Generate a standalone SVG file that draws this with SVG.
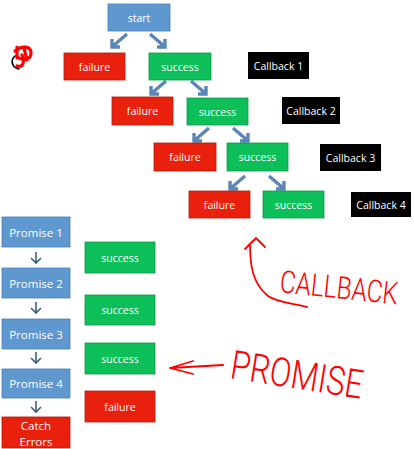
<svg xmlns="http://www.w3.org/2000/svg" width="414" height="449" viewBox="0 0 414 449">
<defs>
<style>
.blue{fill:#5f97cf;stroke:#4a7fb5;stroke-width:0.8}
.red{fill:#e8200c;stroke:#b81a0a;stroke-width:0.8}
.green{fill:#0dbf58;stroke:#0a9a47;stroke-width:0.8}
.black{fill:#000}
.t{font-family:"Open Sans","Liberation Sans",sans-serif;fill:#fff;text-anchor:middle;dominant-baseline:central}
.s{font-size:10.5px}
.p{font-size:11.5px}
.chev{fill:none;stroke:#5a86b8;stroke-width:3.4;stroke-linejoin:miter;stroke-linecap:butt}
.down{fill:none;stroke:#3f5f86;stroke-width:1.6}
.ink{fill:none;stroke:#f00;stroke-width:1.8;stroke-linecap:round;stroke-linejoin:round}
.hand{font-family:"Roboto","DejaVu Sans",sans-serif;font-weight:300;fill:#f00}
</style>
</defs>
<g id="connectors">
<path class="chev" d="M127,34 L113,46 M112,39 L112,47 L120,47"/>
<path class="chev" d="M150,34 L164,46 M165,39 L165,47 L157,47"/>
<path class="chev" d="M166,81 L152,93 M151,86 L151,94 L159,94"/>
<path class="chev" d="M191,81 L205,93 M206,86 L206,94 L198,94"/>
<path class="chev" d="M209,128 L195,140 M194,133 L194,141 L202,141"/>
<path class="chev" d="M233,128 L247,140 M248,133 L248,141 L240,141"/>
<path class="chev" d="M245,176 L231,188 M230,181 L230,189 L238,189"/>
<path class="chev" d="M269,176 L283,188 M284,181 L284,189 L276,189"/>
<path class="down" d="M36,252 L36,263 M31,258 L36,263 L41,258"/>
<path class="down" d="M36,302 L36,313 M31,308 L36,313 L41,308"/>
<path class="down" d="M36,352 L36,363 M31,358 L36,363 L41,358"/>
<path class="down" d="M36,401 L36,412 M31,407 L36,412 L41,407"/>
</g>
<g id="start"><rect class="blue" x="108" y="4" width="62" height="27"/><text class="t s" x="139" y="17.5">start</text></g>
<g id="failure1"><rect class="red" x="64" y="53" width="61" height="27"/><text class="t s" x="94.5" y="66.5">failure</text></g>
<g id="success1"><rect class="green" x="149" y="53" width="62" height="27"/><text class="t s" x="180" y="66.5">success</text></g>
<g id="callback1"><rect class="black" x="248" y="52" width="61" height="27"/><text class="t s" x="278.5" y="65.5">Callback 1</text></g>
<g id="failure2"><rect class="red" x="112" y="97" width="61" height="28"/><text class="t s" x="142.5" y="111">failure</text></g>
<g id="success2"><rect class="green" x="187" y="98" width="61" height="27"/><text class="t s" x="217.5" y="111.5">success</text></g>
<g id="callback2"><rect class="black" x="282" y="97" width="58" height="27"/><text class="t s" x="311" y="110.5">Callback 2</text></g>
<g id="failure3"><rect class="red" x="154" y="143" width="62" height="28"/><text class="t s" x="185" y="157">failure</text></g>
<g id="success3"><rect class="green" x="227" y="143" width="61" height="28"/><text class="t s" x="257.5" y="157">success</text></g>
<g id="callback3"><rect class="black" x="320" y="144" width="61" height="27"/><text class="t s" x="350.5" y="157.5">Callback 3</text></g>
<g id="failure4"><rect class="red" x="189" y="191" width="61" height="27"/><text class="t s" x="219.5" y="204.5">failure</text></g>
<g id="success4"><rect class="green" x="263" y="191" width="61" height="27"/><text class="t s" x="293.5" y="204.5">success</text></g>
<g id="callback4"><rect class="black" x="351" y="192" width="60" height="25"/><text class="t s" x="381" y="204.5">Callback 4</text></g>
<g id="promise1"><rect class="blue" x="2" y="217" width="68" height="30"/><text class="t p" x="36" y="232">Promise 1</text></g>
<g id="promise2"><rect class="blue" x="2" y="268" width="68" height="30"/><text class="t p" x="36" y="283">Promise 2</text></g>
<g id="promise3"><rect class="blue" x="2" y="319" width="68" height="30"/><text class="t p" x="36" y="334">Promise 3</text></g>
<g id="promise4"><rect class="blue" x="2" y="369" width="68" height="29"/><text class="t p" x="36" y="383.5">Promise 4</text></g>
<g id="catch"><rect class="red" x="2" y="417" width="68" height="31"/><text class="t p" x="36" y="425.5">Catch</text><text class="t p" x="36" y="441">Errors</text></g>
<g id="psuccess1"><rect class="green" x="85" y="242" width="70" height="31"/><text class="t s" x="120" y="257.5">success</text></g>
<g id="psuccess2"><rect class="green" x="85" y="295" width="70" height="30"/><text class="t s" x="120" y="310">success</text></g>
<g id="psuccess3"><rect class="green" x="85" y="343" width="70" height="31"/><text class="t s" x="120" y="358.5">success</text></g>
<g id="pfailure"><rect class="red" x="85" y="391" width="70" height="31"/><text class="t s" x="120" y="406.5">failure</text></g>
<g id="annotations">
<path class="ink" d="M307,307 C290,303 276,302 268,296 C256,286 252,272 251,262 C250,255 250,250 250,245"/>
<path class="ink" d="M245,249 L256,238 L265,247"/>
<text class="hand" font-size="31" transform="translate(279,292) rotate(6) scale(0.79,1)">CALLBACK</text>
<path class="ink" d="M223,365 L170,368 M193,361 L170,368 L193,374"/>
<text class="hand" font-size="40" transform="translate(229,378) rotate(9) scale(0.79,1)">PROMISE</text>
<path d="M17,47 L17,58 M15,51 C22,45 31,46 31,53 C31,59 24,61 19,58 M22,55 C25,62 23,68 17,66 M24,48 L27,60" fill="none" stroke="#f00" stroke-width="3.2" stroke-linecap="round"/>
<path d="M15,56 C10,60 12,68 19,69" fill="none" stroke="#000" stroke-width="1.6" stroke-linecap="round"/>
</g>
</svg>
